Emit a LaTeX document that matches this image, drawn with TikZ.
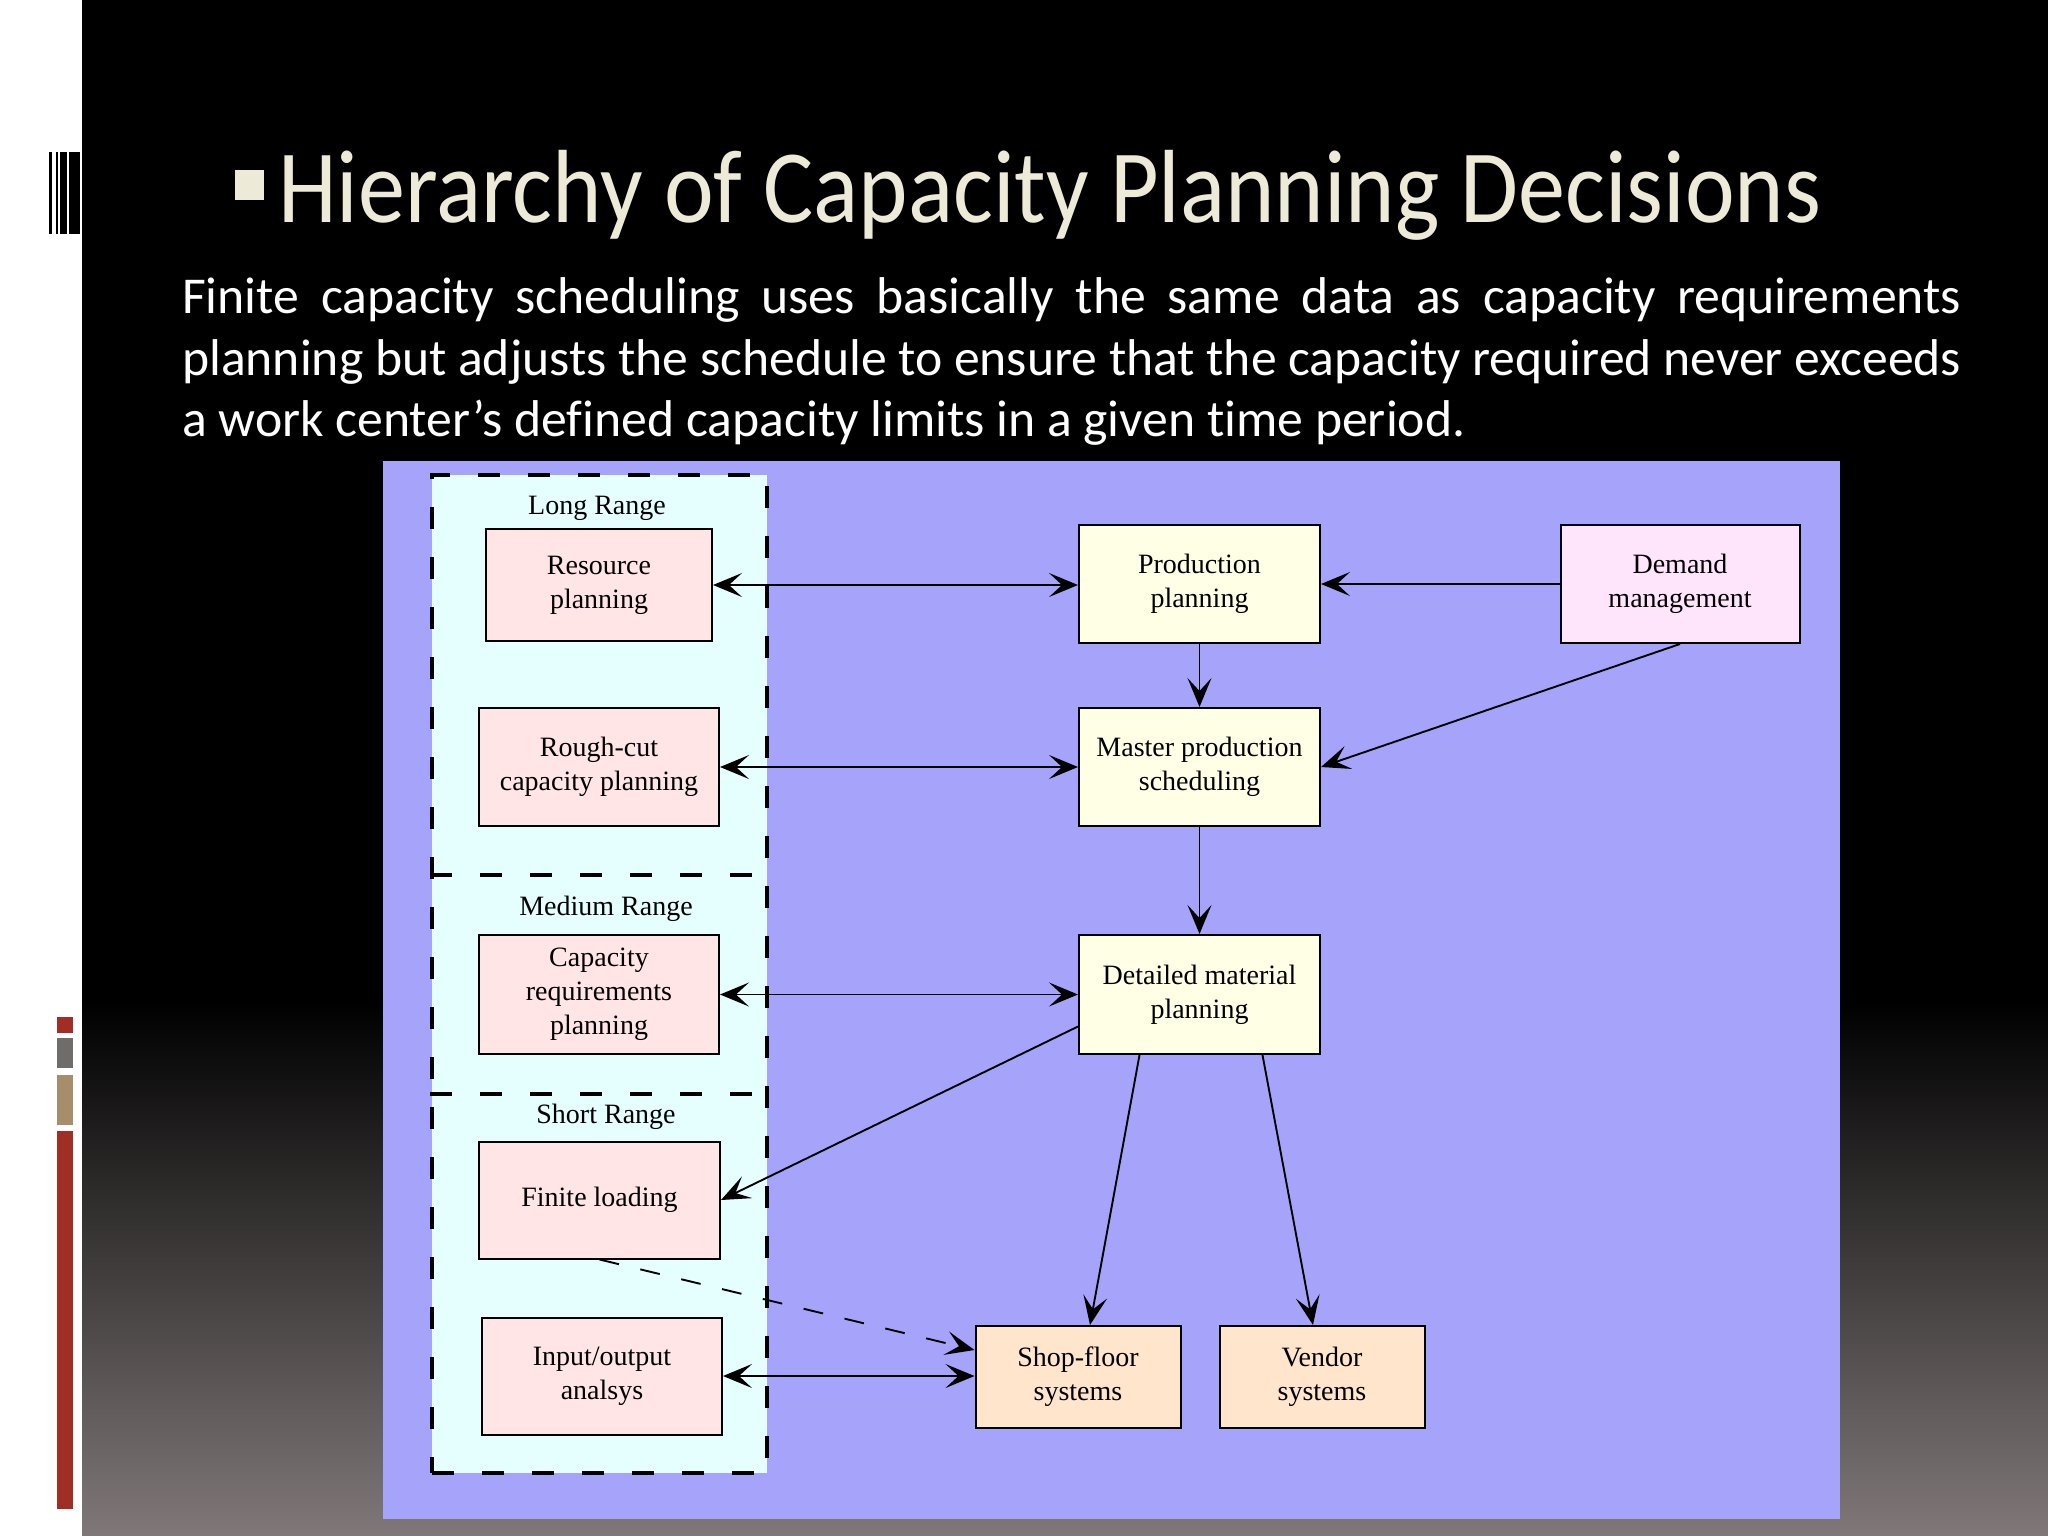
\documentclass[tikz,border=0pt]{standalone}
\usepackage{fontspec}
\usepackage{graphicx}
\usetikzlibrary{arrows.meta,calc}
\newfontfamily\titlefont[Ligatures=NoCommon]{Carlito}
\newfontfamily\diagfont{Liberation Serif}
\newcommand\bodyfmt{\titlefont\fontsize{51.7pt}{62pt}\selectfont}
\definecolor{cream}{RGB}{238,234,216}
\definecolor{panelblue}{RGB}{166,164,250}
\definecolor{rangefill}{RGB}{229,255,255}
\definecolor{pinkfill}{RGB}{255,229,229}
\definecolor{yellowfill}{RGB}{255,255,229}
\definecolor{demandfill}{RGB}{255,229,252}
\definecolor{peachfill}{RGB}{255,229,204}
\definecolor{bottomgray}{RGB}{128,120,120}
\definecolor{redbar}{RGB}{160,46,36}
\definecolor{graybar}{RGB}{112,108,106}
\definecolor{tanbar}{RGB}{166,142,108}
\tikzset{
  box/.style={draw=black, line width=2pt, inner sep=0pt, align=center,
    font={\diagfont\fontsize{28pt}{34pt}\selectfont}},
  rangelabel/.style={inner sep=0pt, anchor=base,
    font={\diagfont\fontsize{28pt}{34pt}\selectfont}},
  rangebox/.style={draw=black, fill=rangefill, line width=4pt,
    dash pattern=on 22pt off 28pt, inner sep=0pt},
  rangeline/.style={draw=black, line width=4pt, dash pattern=on 22pt off 28pt},
  tip/.tip={Stealth[length=29pt,width=24pt,inset=13pt]},
  arr/.style={draw=black, line width=1.9pt, -tip},
  darr/.style={draw=black, line width=1.9pt, tip-tip},
  dasharr/.style={draw=black, line width=1.9pt, -tip, dash pattern=on 20pt off 22pt},
}
\begin{document}
\begin{tikzpicture}[x=1pt,y=-1pt]
\useasboundingbox (0,0) rectangle (2048,1536);
% slide background
\fill[white] (0,0) rectangle (2048,1536);
\fill[black] (82,0) rectangle (2048,1536);
\shade[top color=black, bottom color=bottomgray] (82,1000) rectangle (2048,1536);
% barcode mark
\fill[black] (49,152) rectangle (52,234);
\fill[black] (55.5,152) rectangle (57.5,234);
\fill[black] (60,152) rectangle (66.5,234);
\fill[black] (68.5,152) rectangle (79.5,234);
% colour bars
\fill[redbar] (57,1017) rectangle (73,1033);
\fill[graybar] (57,1038) rectangle (73,1068);
\fill[tanbar] (57,1075) rectangle (73,1125);
\fill[redbar] (57,1131) rectangle (73,1509);
% title
\fill[cream] (235,170) rectangle (264,200);
\node[anchor=base west, inner sep=0pt, text=cream] (title) at (278,222)
  {\resizebox{1543pt}{\height}{\titlefont\fontsize{104pt}{110pt}\selectfont Hierarchy of Capacity Planning Decisions}};
% body text
\node[anchor=base west, inner sep=0pt, text=white] (body1) at (182,313)
  {\bodyfmt\makebox[1779pt][s]{Finite capacity scheduling uses basically the same data as capacity requirements}};
\node[anchor=base west, inner sep=0pt, text=white] (body2) at (182,375)
  {\resizebox{1779pt}{\height}{\bodyfmt planning but adjusts the schedule to ensure that the capacity required never exceeds}};
\node[anchor=base west, inner sep=0pt, text=white] (body3) at (182,436)
  {\bodyfmt a work center’s defined capacity limits in a given time period.};
% diagram panel
\fill[panelblue] (383,461) rectangle (1840,1519);
\node[rangebox, minimum width=335pt, minimum height=998pt] (ranges) at (599.5,974) {};
\draw[rangeline] (ranges.west |- 0,875) -- (ranges.east |- 0,875);
\draw[rangeline] (ranges.west |- 0,1094) -- (ranges.east |- 0,1094);
\node[rangelabel] (lr) at (597,514) {Long Range};
\node[rangelabel] (mr) at (606,915) {Medium Range};
\node[rangelabel] (sr) at (606,1123) {Short Range};
% boxes
\node[box, fill=pinkfill, minimum width=226pt, minimum height=112pt] (rp) at (599,585) {Resource\\planning};
\node[box, fill=pinkfill, minimum width=240pt, minimum height=118pt] (rc) at (599,767) {Rough-cut\\capacity planning};
\node[box, fill=pinkfill, minimum width=240pt, minimum height=119pt] (crp) at (599,994.5) {Capacity\\requirements\\planning};
\node[box, fill=pinkfill, minimum width=241pt, minimum height=117pt] (fl) at (599.5,1200) {Finite loading};
\node[box, fill=pinkfill, minimum width=240pt, minimum height=117pt] (io) at (602,1376) {Input/output\\analsys};
\node[box, fill=yellowfill, minimum width=241pt, minimum height=118pt] (pp) at (1199.5,584) {Production\\planning};
\node[box, fill=demandfill, minimum width=239pt, minimum height=118pt] (dm) at (1680,584) {Demand\\management};
\node[box, fill=yellowfill, minimum width=241pt, minimum height=118pt] (mps) at (1199.5,767) {Master production\\scheduling};
\node[box, fill=yellowfill, minimum width=241pt, minimum height=119pt] (dmp) at (1199.5,994.5) {Detailed material\\planning};
\node[box, fill=peachfill, minimum width=205pt, minimum height=102pt] (sf) at (1078,1377) {Shop-floor\\systems};
\node[box, fill=peachfill, minimum width=205pt, minimum height=102pt] (vs) at (1322,1377) {Vendor\\systems};
% connectors
\draw[darr] (rp.east) -- (rp.east -| pp.west);
\draw[darr] (rc.east) -- (rc.east -| mps.west);
\draw[darr] (crp.east) -- (crp.east -| dmp.west);
\draw[darr] (io.east) -- (io.east -| sf.west);
\draw[arr] (dm.west) -- (dm.west -| pp.east);
\draw[arr] (pp.south) -- (mps.north);
\draw[arr] (dm.south) -- (mps.east);
\draw[arr] (mps.south) -- (dmp.north);
\draw[arr] ([yshift=-32pt]dmp.west) -- (fl.east);
\draw[arr] ([xshift=-60pt]dmp.south) -- ([xshift=12pt]sf.north);
\draw[arr] ([xshift=63pt]dmp.south) -- ([xshift=-9pt]vs.north);
\draw[dasharr] (fl.south) -- ([yshift=27pt]sf.west);
\end{tikzpicture}
\end{document}
